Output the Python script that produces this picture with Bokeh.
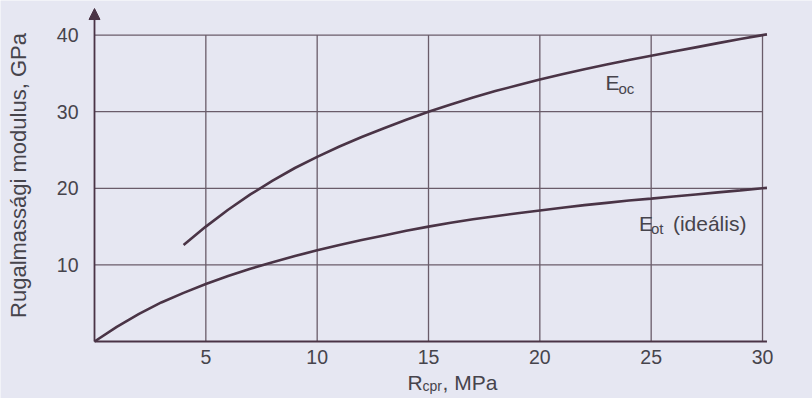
import math
from bokeh.plotting import figure
from bokeh.models import Range1d, Label, Arrow, NormalHead, FixedTicker
from bokeh.embed import file_html
from bokeh.resources import INLINE

# ---- data ----
r_cpr_oc = [4, 5, 6, 7, 8, 9, 10, 11, 12, 13, 14, 15, 16, 17, 18, 19, 20,
            21, 22, 23, 24, 25, 26, 27, 28, 29, 30, 30.2]
e_oc = [12.6, 15.0, 17.2, 19.2, 21.0, 22.65, 24.1, 25.45, 26.7, 27.85, 28.95, 30.0,
        30.95, 31.85, 32.7, 33.45, 34.2, 34.9, 35.55, 36.15, 36.75, 37.3,
        37.85, 38.4, 38.95, 39.5, 40.0, 40.1]

r_cpr_ot = [0, 1, 2, 3, 4, 5, 6, 7, 8, 9, 10, 11, 12, 13, 14, 15, 16, 17, 18, 19, 20,
            21, 22, 23, 24, 25, 26, 27, 28, 29, 30, 30.2]
e_ot = [0.0, 1.9, 3.6, 5.1, 6.35, 7.5, 8.55, 9.5, 10.35, 11.15, 11.9, 12.6, 13.25,
        13.85, 14.45, 15.0, 15.5, 15.95, 16.35, 16.75, 17.1, 17.45, 17.8, 18.1,
        18.4, 18.65, 18.93, 19.2, 19.47, 19.73, 20.0, 20.05]

x_ticks = [5, 10, 15, 20, 25, 30]
y_ticks = [10, 20, 30, 40]

y_axis_title = "Rugalmassági modulus, GPa"
x_axis_main, x_axis_sub, x_axis_rest = "R", "cpr", ", MPa"
oc_main, oc_sub = "E", "oc"
ot_main, ot_sub, ot_rest = "E", "ot", "(ideális)"

# ---- styles ----
BG = "#e6e7f2"
INK = "#4a3446"
GRID = "#6a5c6a"
TXT = "#46444c"
FONT = "Liberation Sans"

X_END = 30.2     # end of the drawn x axis
Y_TOP = 43.47    # tip of the y axis arrow
p = figure(width=812, height=398, output_backend="svg", toolbar_location=None,
           x_range=Range1d(-4.2215, 32.245), y_range=Range1d(-7.441, 44.517),
           min_border_left=0, min_border_right=0, min_border_top=0, min_border_bottom=0,
           background_fill_color=BG, border_fill_color=BG, outline_line_color=None)
p.grid.visible = False

# axes (placed at the data origin, lines drawn separately)
p.xaxis.ticker = FixedTicker(ticks=x_ticks)
p.yaxis.ticker = FixedTicker(ticks=y_ticks)
p.xaxis.fixed_location = 0
p.yaxis.fixed_location = 0
p.xaxis.bounds = (0, X_END)
p.yaxis.bounds = (0, Y_TOP)
for ax in (p.xaxis[0], p.yaxis[0]):
    ax.major_tick_out = 0
    ax.major_tick_in = 0
    ax.minor_tick_out = 0
    ax.minor_tick_in = 0
    ax.axis_line_color = None
    ax.major_label_text_font = FONT
    ax.major_label_text_font_size = "19.5px"
    ax.major_label_text_color = TXT
p.xaxis.major_label_standoff = 8
p.yaxis.major_label_standoff = 16

# grid as segments (bounded like the original drawing)
gx = x_ticks
p.segment(x0=gx, y0=[0] * len(gx), x1=gx, y1=[y_ticks[-1]] * len(gx),
          line_color=GRID, line_width=1.3)
gy = y_ticks
gx_end = [x_ticks[-1] if v < y_ticks[-1] else X_END for v in gy]
p.segment(x0=[0] * len(gy), y0=gy, x1=gx_end, y1=gy, line_color=GRID, line_width=1.3)

# axis lines: x axis line and y axis with arrow head
p.segment(x0=[0], y0=[0], x1=[X_END], y1=[0], line_color=INK, line_width=1.8)
p.add_layout(Arrow(end=NormalHead(size=11, fill_color=INK, line_color=INK),
                   x_start=0, y_start=0, x_end=0, y_end=Y_TOP,
                   line_color=INK, line_width=1.8))

# curves
p.line(r_cpr_oc, e_oc, line_color=INK, line_width=2.6)
p.line(r_cpr_ot, e_ot, line_color=INK, line_width=2.6)

def lab(x, y, text, size, dx=0, dy=0, angle=0.0, align="left"):
    p.add_layout(Label(x=x, y=y, x_offset=dx, y_offset=dy, text=text, angle=angle,
                       text_font=FONT, text_font_size=size, text_color=TXT,
                       text_baseline="alphabetic", text_align=align))

# y axis title
lab(-3.41, 21.67, y_axis_title, "22px", angle=math.pi / 2, align="center")

# curve labels
lab(22.95, 33.78, oc_main, "21px")
lab(22.95, 33.78, oc_sub, "15px", dx=13, dy=-6)
lab(24.45, 15.37, ot_main, "21px")
lab(24.45, 15.37, ot_sub, "15px", dx=12, dy=-5)
lab(24.45, 15.37, ot_rest, "21px", dx=34)

# x axis title with subscript
lab(14.06, -5.35, x_axis_main, "21px")
lab(14.06, -5.35, x_axis_sub, "14px", dx=15, dy=-4)
lab(14.06, -5.35, x_axis_rest, "21px", dx=35)

open("out.html", "w").write(file_html(p, INLINE))
